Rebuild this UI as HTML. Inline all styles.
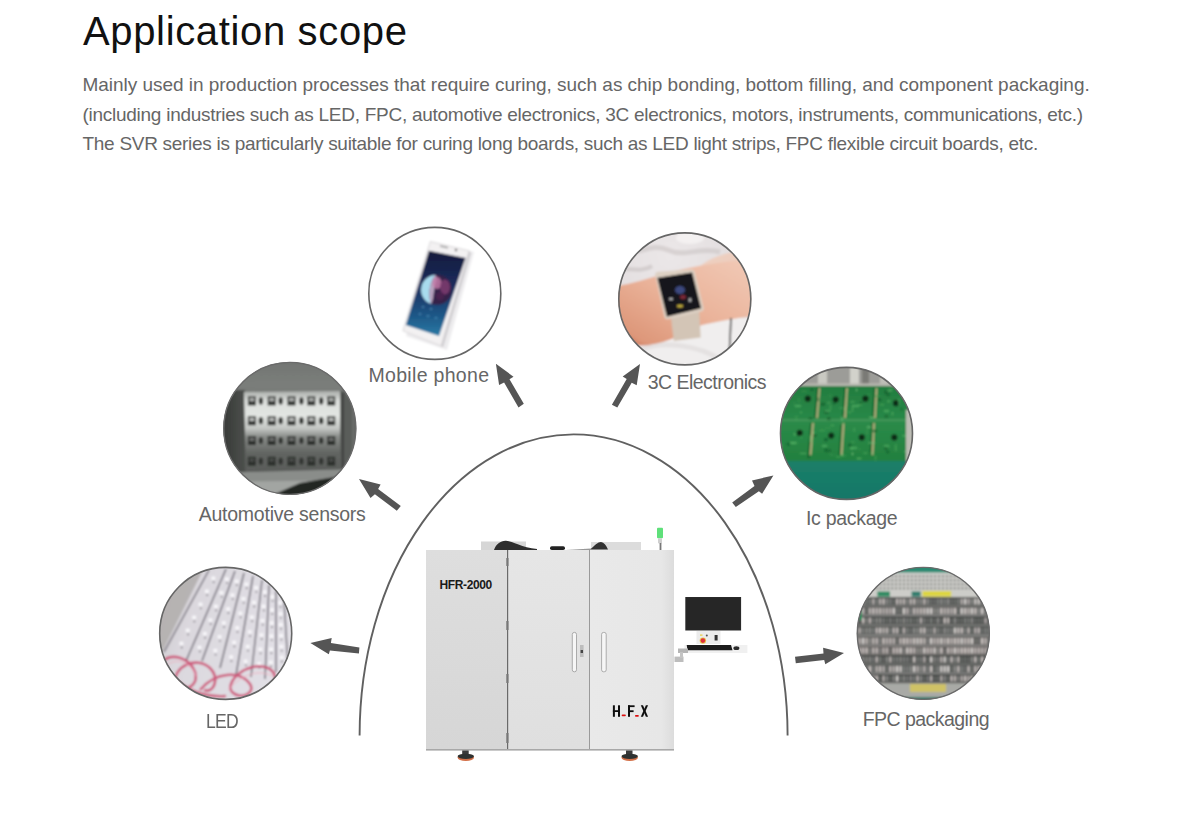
<!DOCTYPE html>
<html><head><meta charset="utf-8">
<style>
html,body{margin:0;padding:0;background:#fff;width:1200px;height:833px;overflow:hidden;}
body{position:relative;font-family:"Liberation Sans",sans-serif;}
.t{position:absolute;white-space:nowrap;line-height:1;}
#title{left:83px;top:11px;font-size:40px;color:#111;letter-spacing:0.65px;}
.p{left:82.5px;font-size:19px;color:#666;}
.lb{font-size:19.5px;color:#666;}
svg{position:absolute;left:0;top:0;}
</style></head>
<body>
<div class="t" id="title">Application scope</div>
<div class="t p" style="top:75px;letter-spacing:-0.03px">Mainly used in production processes that require curing, such as chip bonding, bottom filling, and component packaging.</div>
<div class="t p" style="top:104.6px;letter-spacing:-0.265px">(including industries such as LED, FPC, automotive electronics, 3C electronics, motors, instruments, communications, etc.)</div>
<div class="t p" style="top:134.2px;letter-spacing:-0.285px">The SVR series is particularly suitable for curing long boards, such as LED light strips, FPC flexible circuit boards, etc.</div>

<svg width="1200" height="833" viewBox="0 0 1200 833">
<defs>
 <filter id="soft" x="-5%" y="-5%" width="110%" height="110%"><feGaussianBlur stdDeviation="0.8"/></filter>
 <filter id="soft3" x="-5%" y="-5%" width="110%" height="110%"><feGaussianBlur stdDeviation="0.45"/></filter>
 <filter id="soft2" x="-5%" y="-5%" width="110%" height="110%"><feGaussianBlur stdDeviation="1"/></filter>
 <clipPath id="c1"><circle cx="434.8" cy="293.4" r="66.5"/></clipPath>
 <clipPath id="c2"><circle cx="684.8" cy="298.9" r="66.5"/></clipPath>
 <clipPath id="c3"><circle cx="289.8" cy="428.4" r="66.5"/></clipPath>
 <clipPath id="c4"><circle cx="846.5" cy="433.4" r="66.5"/></clipPath>
 <clipPath id="c5"><circle cx="225.7" cy="633.4" r="66.5"/></clipPath>
 <clipPath id="c6"><circle cx="923.3" cy="633.4" r="66.5"/></clipPath>
</defs>

<!-- arch -->
<path d="M359.6 735.6 A214 301.3 0 0 1 787.6 735.6" fill="none" stroke="#606060" stroke-width="1.9"/>

<!-- arrows -->
<g fill="#555">
 <polygon points="495.9,363.7 513.5,376.7 509.5,379.2 523.8,403.7 518.5,407.6 504.1,382.4 499.1,384.9"/>
 <polygon points="640,364 636.7,385.3 631.7,382.7 617.3,407.6 611.9,404.7 626.7,379.1 622.7,376.6"/>
 <polygon points="359,479 380.6,484.5 378.1,489.1 400.8,506.1 396.8,510.7 374.9,494.2 370.5,498.1"/>
 <polygon points="773.4,475.4 762.1,493.8 758.9,491.3 735.8,507.1 732.2,502.5 754.5,485.9 752,480.5"/>
 <polygon points="310.4,642.9 331.7,637.9 330.9,643.1 359.4,647.4 358.9,653.5 329.9,650.6 328.8,654.2"/>
 <polygon points="844,653.1 825.3,664.3 824.2,659.9 795.8,663.2 795,656.7 823.5,653.5 823.1,647.7"/>
</g>

<!-- circle 1: mobile phone -->
<g clip-path="url(#c1)"><g filter="url(#soft)">
 <rect x="360" y="220" width="150" height="150" fill="#fff"/>
 <polygon points="434,244 474,252 447,350 406,336" fill="#dedde0" opacity="0.55"/>
 <polygon points="430.3,241.5 469.2,250.8 441.1,346 402.9,330.8" fill="#f3f1f2" stroke="#d6d4d6" stroke-width="0.9"/>
 <polygon points="469.2,250.8 471,253 443,347.5 441.1,346" fill="#cfcdd0"/>
 <defs><linearGradient id="scr" x1="0" y1="0" x2="0" y2="1"><stop offset="0" stop-color="#161a3c"/><stop offset="0.4" stop-color="#1b2c5c"/><stop offset="0.75" stop-color="#1d5686"/><stop offset="1" stop-color="#2a7aa5"/></linearGradient></defs>
 <polygon points="428.9,250.8 465.6,258 439,335.9 405.8,325" fill="url(#scr)"/>
 <circle cx="436.8" cy="289.8" r="15" fill="#35204a"/>
 <path d="M435.3,274.9 A15,15 0 0 0 431,304 C428,296 429,282 435.3,274.9 Z" fill="#a8dcee"/>
 <path d="M435.3,274.9 C429,282 428,296 431,304 C434,300 433,290 436,283 C437,279 437,276 435.3,274.9 Z" fill="#d8c4dc" opacity="0.8"/>
 <ellipse cx="437" cy="283" rx="4.5" ry="6" fill="#c27aa6" opacity="0.85"/>
 <ellipse cx="445" cy="287" rx="5" ry="7.5" fill="#7a3a6e" opacity="0.9"/>
 <ellipse cx="440" cy="296" rx="4" ry="4" fill="#4a2450" opacity="0.9"/>
 <rect x="440" y="246" width="8" height="1.6" fill="#9a9a9a" transform="rotate(13 444 247)"/>
 <circle cx="456" cy="250" r="1.2" fill="#555"/>
 <g fill="#5aa0c8" opacity="0.7"><circle cx="420" cy="314" r="1"/><circle cx="428" cy="316" r="1"/><circle cx="436" cy="318" r="1"/><circle cx="423" cy="307" r="1"/><circle cx="431" cy="309" r="1"/></g>
</g></g>
<circle cx="434.8" cy="293.4" r="66" fill="none" stroke="#666" stroke-width="1.6"/>

<!-- circle 2: watch -->
<g clip-path="url(#c2)"><g filter="url(#soft)">
 <defs>
  <linearGradient id="skin" x1="1" y1="0" x2="0" y2="1"><stop offset="0" stop-color="#f2cbb8"/><stop offset="0.5" stop-color="#eab39a"/><stop offset="1" stop-color="#d98d6e"/></linearGradient>
  <radialGradient id="marb" cx="0.4" cy="0.2" r="0.8"><stop offset="0" stop-color="#ebe7e8"/><stop offset="1" stop-color="#dcd7d8"/></radialGradient>
 </defs>
 <rect x="610" y="225" width="150" height="150" fill="url(#marb)"/>
 <path d="M625,250 C640,256 650,242 668,250 C685,258 700,246 720,252" stroke="#cbc4c4" stroke-width="5" fill="none" opacity="0.6"/>
 <path d="M615,270 C628,266 640,274 652,266" stroke="#c6bfc0" stroke-width="4" fill="none" opacity="0.6"/>
 <ellipse cx="690" cy="238" rx="14" ry="6" fill="#f6f4f4" opacity="0.8"/>
 <rect x="610" y="318" width="150" height="60" fill="#f0eeee"/>
 <path d="M640,350 C660,340 700,345 720,360" stroke="#dcd8d8" stroke-width="5" fill="none" opacity="0.6"/>
 <path d="M700,266 C712,256 735,250 756,249 L756,262 Z" fill="#efcbb9" opacity="0.85"/>
 <path d="M612,287 C630,284 648,279 666,273 C695,266 725,261 756,259 L756,316 C735,318 718,322 702,325 C688,331 668,343 648,345 C634,346 620,340 612,335 Z" fill="url(#skin)"/>
 <path d="M612,318 C625,332 640,345 652,345 L612,348 Z" fill="#d28468" opacity="0.6"/>
 <path d="M670.5,314 L699,308.5 L700.7,337.6 L673.8,341 Z" fill="#d3c5b6"/>
 <path d="M655.3,275.4 Q654.5,272.5 658,271.8 L691,269.6 Q694,269.2 694.8,272 L703.5,307.5 Q704.5,310.5 701.5,311.4 L668,319.2 Q665,320 664.4,317 Z" fill="#ddd0c3"/>
 <path d="M658.3,278.5 L691.5,273.2 L700.2,307.8 L667.5,315.8 Z" fill="#16161c" stroke="#0c0c0c" stroke-width="1.6" stroke-linejoin="round"/>
 <ellipse cx="680" cy="290" rx="5" ry="4" fill="#4a5aa0" opacity="0.75"/>
 <ellipse cx="683" cy="297" rx="3" ry="2" fill="#a03040" opacity="0.75"/>
 <ellipse cx="680" cy="306" rx="3" ry="1.5" fill="#d8c040" opacity="0.9"/>
 <ellipse cx="671" cy="299" rx="2" ry="1.2" fill="#ddd" opacity="0.8"/>
 <ellipse cx="690" cy="300" rx="1.5" ry="2" fill="#ddd" opacity="0.8"/>
 <path d="M731,318 L729.5,350" stroke="#3a3a3a" stroke-width="1.6"/>
</g></g>
<circle cx="684.8" cy="298.9" r="66" fill="none" stroke="#666" stroke-width="1.6"/>

<!-- circle 3: automotive sensors -->
<g clip-path="url(#c3)"><g filter="url(#soft)">
 <defs>
  <linearGradient id="agr" x1="0" y1="0" x2="0" y2="1"><stop offset="0" stop-color="#707370"/><stop offset="0.2" stop-color="#7b7e7b"/><stop offset="0.5" stop-color="#626562"/><stop offset="1" stop-color="#4a4c4a"/></linearGradient>
  <linearGradient id="apn" x1="0" y1="0" x2="0" y2="1"><stop offset="0" stop-color="#a9aca9"/><stop offset="0.12" stop-color="#dcdfdc"/><stop offset="0.3" stop-color="#e2e5e2"/><stop offset="0.45" stop-color="#c4c7c4"/><stop offset="0.55" stop-color="#8a8d8a"/><stop offset="0.75" stop-color="#626562"/><stop offset="1" stop-color="#585a58"/></linearGradient>
  <linearGradient id="alb" x1="0" y1="0" x2="1" y2="0"><stop offset="0" stop-color="#303330"/><stop offset="1" stop-color="#4c4f4c"/></linearGradient>
 </defs>
 <rect x="215" y="355" width="150" height="150" fill="url(#agr)"/>
 <rect x="215" y="390" width="30" height="90" fill="url(#alb)"/>
 <polygon points="244,392 340,391 342,472 246,474" fill="url(#apn)"/>
 <rect x="340" y="391" width="17" height="84" fill="#5a5d5a"/>
 <rect x="342" y="393" width="1.4" height="80" fill="#2e2e2e"/>
 <rect x="352" y="395" width="3" height="70" fill="#6a6d6a"/>
 <rect x="247.9" y="396.4" width="8" height="9" fill="#2c2e2c"/><rect x="249.4" y="397.9" width="5" height="3.5" fill="#a8aaa8"/>
 <ellipse cx="260.9" cy="400.9" rx="2.2" ry="3.6" fill="#333533"/>
 <rect x="267.7" y="396.4" width="8" height="9" fill="#2c2e2c"/><rect x="269.2" y="397.9" width="5" height="3.5" fill="#a8aaa8"/>
 <ellipse cx="280.7" cy="400.9" rx="2.2" ry="3.6" fill="#333533"/>
 <rect x="287.5" y="396.4" width="8" height="9" fill="#2c2e2c"/><rect x="289.0" y="397.9" width="5" height="3.5" fill="#a8aaa8"/>
 <ellipse cx="301.4" cy="400.9" rx="2.2" ry="3.6" fill="#333533"/>
 <rect x="307.3" y="396.4" width="8" height="9" fill="#2c2e2c"/><rect x="308.8" y="397.9" width="5" height="3.5" fill="#a8aaa8"/>
 <ellipse cx="321.2" cy="400.9" rx="2.2" ry="3.6" fill="#333533"/>
 <rect x="327.2" y="396.4" width="8" height="9" fill="#2c2e2c"/><rect x="328.7" y="397.9" width="5" height="3.5" fill="#a8aaa8"/>
 <rect x="247.9" y="416.2" width="8" height="9" fill="#2c2e2c"/><rect x="249.4" y="417.7" width="5" height="3.5" fill="#b8bab8"/>
 <ellipse cx="260.9" cy="420.7" rx="2.2" ry="3.6" fill="#333533"/>
 <rect x="267.7" y="416.2" width="8" height="9" fill="#2c2e2c"/><rect x="269.2" y="417.7" width="5" height="3.5" fill="#b8bab8"/>
 <ellipse cx="280.7" cy="420.7" rx="2.2" ry="3.6" fill="#333533"/>
 <rect x="287.5" y="416.2" width="8" height="9" fill="#2c2e2c"/><rect x="289.0" y="417.7" width="5" height="3.5" fill="#b8bab8"/>
 <ellipse cx="301.4" cy="420.7" rx="2.2" ry="3.6" fill="#333533"/>
 <rect x="307.3" y="416.2" width="8" height="9" fill="#2c2e2c"/><rect x="308.8" y="417.7" width="5" height="3.5" fill="#b8bab8"/>
 <ellipse cx="321.2" cy="420.7" rx="2.2" ry="3.6" fill="#333533"/>
 <rect x="327.2" y="416.2" width="8" height="9" fill="#2c2e2c"/><rect x="328.7" y="417.7" width="5" height="3.5" fill="#b8bab8"/>
 <rect x="247.9" y="436.0" width="8" height="9" fill="#2c2e2c"/><rect x="249.4" y="437.5" width="5" height="3.5" fill="#6a6c6a"/>
 <ellipse cx="260.9" cy="440.5" rx="2.2" ry="3.6" fill="#333533"/>
 <rect x="267.7" y="436.0" width="8" height="9" fill="#2c2e2c"/><rect x="269.2" y="437.5" width="5" height="3.5" fill="#6a6c6a"/>
 <ellipse cx="280.7" cy="440.5" rx="2.2" ry="3.6" fill="#333533"/>
 <rect x="287.5" y="436.0" width="8" height="9" fill="#2c2e2c"/><rect x="289.0" y="437.5" width="5" height="3.5" fill="#6a6c6a"/>
 <ellipse cx="301.4" cy="440.5" rx="2.2" ry="3.6" fill="#333533"/>
 <rect x="307.3" y="436.0" width="8" height="9" fill="#2c2e2c"/><rect x="308.8" y="437.5" width="5" height="3.5" fill="#6a6c6a"/>
 <ellipse cx="321.2" cy="440.5" rx="2.2" ry="3.6" fill="#333533"/>
 <rect x="327.2" y="436.0" width="8" height="9" fill="#2c2e2c"/><rect x="328.7" y="437.5" width="5" height="3.5" fill="#6a6c6a"/>
 <rect x="247.9" y="456.7" width="8" height="9" fill="#2c2e2c"/><rect x="249.4" y="458.2" width="5" height="3.5" fill="#4a4c4a"/>
 <ellipse cx="260.9" cy="461.2" rx="2.2" ry="3.6" fill="#333533"/>
 <rect x="267.7" y="456.7" width="8" height="9" fill="#2c2e2c"/><rect x="269.2" y="458.2" width="5" height="3.5" fill="#4a4c4a"/>
 <ellipse cx="280.7" cy="461.2" rx="2.2" ry="3.6" fill="#333533"/>
 <rect x="287.5" y="456.7" width="8" height="9" fill="#2c2e2c"/><rect x="289.0" y="458.2" width="5" height="3.5" fill="#4a4c4a"/>
 <ellipse cx="301.4" cy="461.2" rx="2.2" ry="3.6" fill="#333533"/>
 <rect x="307.3" y="456.7" width="8" height="9" fill="#2c2e2c"/><rect x="308.8" y="458.2" width="5" height="3.5" fill="#4a4c4a"/>
 <ellipse cx="321.2" cy="461.2" rx="2.2" ry="3.6" fill="#333533"/>
 <rect x="327.2" y="456.7" width="8" height="9" fill="#2c2e2c"/><rect x="328.7" y="458.2" width="5" height="3.5" fill="#4a4c4a"/>
 <polygon points="215,473 356,469 365,470 365,482 215,484" fill="#8a8d8a"/>
 <polygon points="215,482 365,480 365,505 215,505" fill="#a2a5a2"/>
 <polygon points="262,505 268,497 300,483 340,476 365,476 365,505" fill="#242624"/>
</g></g>
<circle cx="289.8" cy="428.4" r="66" fill="none" stroke="#6a6a6a" stroke-width="1.4"/>

<!-- circle 4: ic package -->
<g clip-path="url(#c4)"><g filter="url(#soft)">
 <defs>
  <linearGradient id="pcb" x1="0" y1="0" x2="0" y2="1"><stop offset="0" stop-color="#237d40"/><stop offset="0.5" stop-color="#2a8a48"/><stop offset="1" stop-color="#23803f"/></linearGradient>
  <linearGradient id="teal" x1="0" y1="0" x2="0" y2="1"><stop offset="0" stop-color="#1b7f68"/><stop offset="1" stop-color="#157567"/></linearGradient>
 </defs>
 <rect x="770" y="360" width="150" height="30" fill="#9c9c98"/>
 <rect x="818" y="366" width="9" height="20" fill="#c9c9c2"/>
 <rect x="850" y="366" width="9" height="20" fill="#d2d2cb"/>
 <rect x="862" y="366" width="7" height="20" fill="#7a7a76"/>
 <rect x="880" y="366" width="8" height="20" fill="#bfbfb8"/>
 <rect x="770" y="383.5" width="150" height="3" fill="#b8b8b0"/>
 <rect x="770" y="386" width="150" height="76" fill="url(#pcb)"/>
 <rect x="770" y="419.5" width="150" height="1.5" fill="#4a9a5e"/>
 <g stroke="#145a28" stroke-width="1.2" transform="translate(-2.2,0)">
  <line x1="819.5" y1="388" x2="817" y2="418"/><line x1="847" y1="388" x2="845" y2="418"/><line x1="876.5" y1="388" x2="875" y2="418"/>
  <line x1="813" y1="423" x2="810.5" y2="455"/><line x1="843.5" y1="423" x2="841.5" y2="455"/><line x1="874" y1="423" x2="872.5" y2="455"/>
 </g>
 <g stroke="#c9b487" stroke-width="1.6">
  <line x1="819.5" y1="388" x2="817" y2="418"/><line x1="847" y1="388" x2="845" y2="418"/><line x1="876.5" y1="388" x2="875" y2="418"/>
  <line x1="813" y1="423" x2="810.5" y2="455"/><line x1="843.5" y1="423" x2="841.5" y2="455"/><line x1="874" y1="423" x2="872.5" y2="455"/>
 </g>
 <circle cx="807.8" cy="398.7" r="3.1" fill="#0e2a16"/>
 <circle cx="835.7" cy="399.6" r="3.1" fill="#0e2a16"/>
 <circle cx="865.4" cy="398.7" r="3.1" fill="#0e2a16"/>
 <circle cx="896" cy="403.2" r="3.1" fill="#0e2a16"/>
 <circle cx="799.7" cy="432.9" r="3.1" fill="#0e2a16"/>
 <circle cx="831.2" cy="435.6" r="3.1" fill="#0e2a16"/>
 <circle cx="861.8" cy="437.4" r="3.1" fill="#0e2a16"/>
 <circle cx="894.3" cy="437.4" r="3.1" fill="#0e2a16"/>
 <rect x="836.1" y="456.3" width="4.3" height="1.2" fill="#4fae5e" opacity="0.75"/>
 <rect x="844.1" y="406.9" width="0.8" height="4.2" fill="#62c070" opacity="0.75"/>
 <rect x="895.2" y="444.4" width="1.2" height="6.8" fill="#4fae5e" opacity="0.75"/>
 <rect x="887.3" y="389.9" width="5.0" height="1.0" fill="#7ccf86" opacity="0.75"/>
 <rect x="888.7" y="446.1" width="0.8" height="2.0" fill="#3e9a50" opacity="0.75"/>
 <rect x="829.9" y="404.5" width="1.0" height="5.5" fill="#4fae5e" opacity="0.75"/>
 <rect x="779.0" y="404.9" width="1.0" height="6.2" fill="#62c070" opacity="0.75"/>
 <rect x="889.4" y="388.0" width="4.3" height="1.2" fill="#3e9a50" opacity="0.75"/>
 <rect x="851.4" y="447.3" width="1.0" height="2.4" fill="#62c070" opacity="0.75"/>
 <rect x="877.3" y="391.5" width="2.1" height="1.0" fill="#3e9a50" opacity="0.75"/>
 <rect x="850.5" y="401.4" width="4.1" height="1.0" fill="#62c070" opacity="0.75"/>
 <rect x="908.7" y="454.1" width="7.0" height="0.8" fill="#4fae5e" opacity="0.75"/>
 <rect x="909.4" y="406.1" width="6.9" height="0.8" fill="#3e9a50" opacity="0.75"/>
 <rect x="879.3" y="397.9" width="2.4" height="0.8" fill="#4fae5e" opacity="0.75"/>
 <rect x="824.8" y="427.6" width="6.2" height="0.8" fill="#3e9a50" opacity="0.75"/>
 <rect x="795.8" y="415.3" width="0.8" height="5.6" fill="#4fae5e" opacity="0.75"/>
 <rect x="827.4" y="402.5" width="2.5" height="0.8" fill="#7ccf86" opacity="0.75"/>
 <rect x="870.1" y="452.7" width="3.5" height="0.8" fill="#62c070" opacity="0.75"/>
 <rect x="839.7" y="407.6" width="3.4" height="0.8" fill="#62c070" opacity="0.75"/>
 <rect x="830.5" y="424.7" width="3.8" height="1.2" fill="#4fae5e" opacity="0.75"/>
 <rect x="793.7" y="401.5" width="0.8" height="4.9" fill="#3e9a50" opacity="0.75"/>
 <rect x="869.6" y="416.9" width="4.4" height="1.2" fill="#7ccf86" opacity="0.75"/>
 <rect x="909.9" y="390.3" width="1.2" height="6.5" fill="#4fae5e" opacity="0.75"/>
 <rect x="898.5" y="398.6" width="1.0" height="6.4" fill="#62c070" opacity="0.75"/>
 <rect x="852.3" y="406.7" width="0.8" height="5.0" fill="#62c070" opacity="0.75"/>
 <rect x="909.1" y="449.2" width="6.7" height="1.2" fill="#3e9a50" opacity="0.75"/>
 <rect x="888.2" y="390.5" width="3.6" height="0.8" fill="#3e9a50" opacity="0.75"/>
 <rect x="904.2" y="451.1" width="3.3" height="0.8" fill="#7ccf86" opacity="0.75"/>
 <rect x="866.5" y="429.1" width="1.0" height="5.3" fill="#3e9a50" opacity="0.75"/>
 <rect x="819.1" y="430.1" width="6.0" height="0.8" fill="#4fae5e" opacity="0.75"/>
 <rect x="853.7" y="427.9" width="0.8" height="3.8" fill="#62c070" opacity="0.75"/>
 <rect x="812.4" y="439.2" width="1.0" height="6.6" fill="#3e9a50" opacity="0.75"/>
 <rect x="841.7" y="453.2" width="0.8" height="3.6" fill="#7ccf86" opacity="0.75"/>
 <rect x="780.6" y="443.5" width="1.2" height="5.2" fill="#62c070" opacity="0.75"/>
 <rect x="829.7" y="450.7" width="0.8" height="3.2" fill="#62c070" opacity="0.75"/>
 <rect x="790.6" y="442.3" width="6.8" height="1.2" fill="#4fae5e" opacity="0.75"/>
 <rect x="839.1" y="423.4" width="4.7" height="0.8" fill="#4fae5e" opacity="0.75"/>
 <rect x="880.1" y="404.2" width="4.0" height="1.2" fill="#4fae5e" opacity="0.75"/>
 <rect x="900.9" y="427.7" width="0.8" height="3.0" fill="#3e9a50" opacity="0.75"/>
 <rect x="863.1" y="452.5" width="4.3" height="1.2" fill="#4fae5e" opacity="0.75"/>
 <rect x="891.9" y="411.9" width="1.0" height="3.1" fill="#62c070" opacity="0.75"/>
 <rect x="847.5" y="411.7" width="3.7" height="0.8" fill="#62c070" opacity="0.75"/>
 <rect x="849.3" y="411.0" width="0.8" height="3.1" fill="#3e9a50" opacity="0.75"/>
 <rect x="798.3" y="398.1" width="1.2" height="4.4" fill="#3e9a50" opacity="0.75"/>
 <rect x="841.5" y="416.5" width="1.2" height="4.2" fill="#7ccf86" opacity="0.75"/>
 <rect x="850.8" y="441.5" width="3.6" height="1.0" fill="#4fae5e" opacity="0.75"/>
 <rect x="794.1" y="432.8" width="1.2" height="3.0" fill="#62c070" opacity="0.75"/>
 <rect x="856.7" y="457.9" width="4.7" height="1.2" fill="#62c070" opacity="0.75"/>
 <rect x="868.3" y="442.4" width="6.6" height="1.0" fill="#7ccf86" opacity="0.75"/>
 <rect x="841.6" y="455.4" width="4.6" height="0.8" fill="#4fae5e" opacity="0.75"/>
 <rect x="779.0" y="395.8" width="2.2" height="0.8" fill="#4fae5e" opacity="0.75"/>
 <rect x="813.4" y="431.8" width="1.2" height="2.5" fill="#62c070" opacity="0.75"/>
 <rect x="859.2" y="448.2" width="1.2" height="2.1" fill="#3e9a50" opacity="0.75"/>
 <rect x="858.1" y="404.1" width="4.6" height="1.2" fill="#4fae5e" opacity="0.75"/>
 <rect x="875.0" y="455.5" width="0.8" height="5.0" fill="#4fae5e" opacity="0.75"/>
 <rect x="801.3" y="390.9" width="5.6" height="1.0" fill="#3e9a50" opacity="0.75"/>
 <rect x="887.3" y="400.6" width="3.0" height="1.2" fill="#62c070" opacity="0.75"/>
 <rect x="851.9" y="452.6" width="1.2" height="2.6" fill="#7ccf86" opacity="0.75"/>
 <rect x="867.6" y="393.7" width="2.1" height="1.2" fill="#3e9a50" opacity="0.75"/>
 <rect x="799.9" y="453.2" width="6.6" height="0.8" fill="#62c070" opacity="0.75"/>
 <rect x="866.9" y="426.5" width="4.3" height="1.2" fill="#7ccf86" opacity="0.75"/>
 <rect x="856.1" y="388.4" width="1.0" height="2.9" fill="#7ccf86" opacity="0.75"/>
 <rect x="829.7" y="393.9" width="0.8" height="3.6" fill="#3e9a50" opacity="0.75"/>
 <rect x="800.8" y="435.3" width="0.8" height="3.4" fill="#4fae5e" opacity="0.75"/>
 <rect x="829.8" y="454.7" width="5.8" height="0.8" fill="#3e9a50" opacity="0.75"/>
 <rect x="800.0" y="411.9" width="2.1" height="1.0" fill="#62c070" opacity="0.75"/>
 <rect x="902.5" y="435.2" width="4.8" height="1.2" fill="#62c070" opacity="0.75"/>
 <rect x="910.0" y="448.2" width="0.8" height="6.9" fill="#62c070" opacity="0.75"/>
 <rect x="874.7" y="395.7" width="5.8" height="1.2" fill="#3e9a50" opacity="0.75"/>
 <rect x="809.9" y="435.3" width="1.2" height="6.8" fill="#62c070" opacity="0.75"/>
 <rect x="884.3" y="390.3" width="3.2" height="3.9" fill="#17602e" opacity="0.8"/>
 <rect x="827.1" y="417.1" width="3.3" height="3.0" fill="#17602e" opacity="0.8"/>
 <rect x="813.4" y="434.2" width="3.4" height="2.5" fill="#17602e" opacity="0.8"/>
 <rect x="900.5" y="407.9" width="2.0" height="2.5" fill="#17602e" opacity="0.8"/>
 <rect x="780.8" y="450.2" width="2.2" height="2.6" fill="#17602e" opacity="0.8"/>
 <rect x="828.7" y="449.0" width="2.2" height="3.8" fill="#17602e" opacity="0.8"/>
 <rect x="833.0" y="402.3" width="2.1" height="2.2" fill="#17602e" opacity="0.8"/>
 <rect x="884.4" y="415.3" width="3.8" height="2.2" fill="#17602e" opacity="0.8"/>
 <rect x="859.3" y="401.7" width="3.1" height="2.3" fill="#17602e" opacity="0.8"/>
 <rect x="824.0" y="438.0" width="3.9" height="3.4" fill="#17602e" opacity="0.8"/>
 <rect x="824.1" y="410.3" width="4.9" height="3.5" fill="#17602e" opacity="0.8"/>
 <rect x="807.2" y="455.1" width="2.8" height="3.2" fill="#17602e" opacity="0.8"/>
 <rect x="872.9" y="429.8" width="4.3" height="2.4" fill="#17602e" opacity="0.8"/>
 <rect x="808.6" y="417.4" width="3.9" height="2.0" fill="#17602e" opacity="0.8"/>
 <rect x="810.0" y="388.8" width="3.6" height="2.1" fill="#17602e" opacity="0.8"/>
 <rect x="786.7" y="442.8" width="3.5" height="2.7" fill="#17602e" opacity="0.8"/>
 <rect x="820.7" y="402.8" width="4.4" height="2.9" fill="#17602e" opacity="0.8"/>
 <rect x="886.0" y="450.7" width="3.3" height="2.5" fill="#17602e" opacity="0.8"/>
 <rect x="884.3" y="446.5" width="2.9" height="3.5" fill="#17602e" opacity="0.8"/>
 <rect x="886.5" y="393.5" width="3.4" height="2.6" fill="#17602e" opacity="0.8"/>
 <rect x="848.4" y="443.4" width="2.9" height="3.6" fill="#17602e" opacity="0.8"/>
 <rect x="785.3" y="394.4" width="4.1" height="3.0" fill="#17602e" opacity="0.8"/>
 <rect x="878.2" y="397.8" width="3.1" height="3.5" fill="#17602e" opacity="0.8"/>
 <rect x="824.5" y="448.5" width="3.3" height="3.6" fill="#17602e" opacity="0.8"/>
 <rect x="816.1" y="397.5" width="2.3" height="3.7" fill="#17602e" opacity="0.8"/>
 <g fill="#5fbf6f" opacity="0.55">
  <rect x="795" y="405" width="6" height="2"/><rect x="825" y="410" width="5" height="2"/><rect x="852" y="405" width="7" height="2"/><rect x="884" y="410" width="5" height="2"/>
  <rect x="790" y="442" width="6" height="2"/><rect x="822" y="445" width="5" height="2"/><rect x="850" y="447" width="7" height="2"/><rect x="884" y="445" width="5" height="2"/>
 </g>
 <rect x="906" y="410" width="7" height="51" fill="#bdbdb5"/>
 <rect x="770" y="461" width="150" height="50" fill="url(#teal)"/>
</g>
</g>
<circle cx="846.5" cy="433.4" r="66" fill="none" stroke="#666" stroke-width="1.6"/>

<!-- circle 5: LED -->
<g clip-path="url(#c5)"><g filter="url(#soft)">
 <defs><linearGradient id="ledg" x1="0" y1="0" x2="1" y2="0.3"><stop offset="0" stop-color="#c4c0c2"/><stop offset="0.35" stop-color="#dbd8de"/><stop offset="1" stop-color="#e2e0e6"/></linearGradient></defs>
 <rect x="150" y="560" width="150" height="150" fill="url(#ledg)"/>
 <polygon points="150,560 208,560 162,652 150,660" fill="#b3afae" opacity="0.9"/>
 <g stroke="#716d78" stroke-width="1.5">
 <line x1="209" y1="570" x2="164" y2="652"/>
 <line x1="226" y1="569" x2="186" y2="661"/>
 <line x1="235" y1="571" x2="202" y2="661"/>
 <line x1="244" y1="573" x2="220" y2="668"/>
 <line x1="253" y1="576" x2="236" y2="675"/>
 <line x1="262" y1="580" x2="251" y2="677"/>
 <line x1="269" y1="585" x2="265" y2="679"/>
 <line x1="276" y1="591" x2="276" y2="672"/>
 <line x1="284" y1="600" x2="288" y2="665"/>
 </g>
 <rect x="211.4" y="576.5" width="3.8" height="3.4" fill="#f8f7fa"/><circle cx="213.6" cy="582.2" r="0.9" fill="#77727a"/>
 <rect x="205.0" y="589.6" width="3.8" height="3.4" fill="#f8f7fa"/><circle cx="207.2" cy="595.2" r="0.9" fill="#77727a"/>
 <rect x="198.6" y="602.6" width="3.8" height="3.4" fill="#f8f7fa"/><circle cx="200.8" cy="608.3" r="0.9" fill="#77727a"/>
 <rect x="192.2" y="615.7" width="3.8" height="3.4" fill="#f8f7fa"/><circle cx="194.4" cy="621.4" r="0.9" fill="#77727a"/>
 <rect x="185.8" y="628.7" width="3.8" height="3.4" fill="#f8f7fa"/><circle cx="188.1" cy="634.4" r="0.9" fill="#77727a"/>
 <rect x="179.5" y="641.8" width="3.8" height="3.4" fill="#f8f7fa"/><circle cx="181.7" cy="647.5" r="0.9" fill="#77727a"/>
 <rect x="224.9" y="577.4" width="3.8" height="3.4" fill="#f8f7fa"/><circle cx="227.2" cy="583.1" r="0.9" fill="#77727a"/>
 <rect x="219.5" y="591.1" width="3.8" height="3.4" fill="#f8f7fa"/><circle cx="221.7" cy="596.8" r="0.9" fill="#77727a"/>
 <rect x="214.0" y="604.7" width="3.8" height="3.4" fill="#f8f7fa"/><circle cx="216.2" cy="610.4" r="0.9" fill="#77727a"/>
 <rect x="208.5" y="618.4" width="3.8" height="3.4" fill="#f8f7fa"/><circle cx="210.7" cy="624.0" r="0.9" fill="#77727a"/>
 <rect x="203.0" y="632.0" width="3.8" height="3.4" fill="#f8f7fa"/><circle cx="205.2" cy="637.7" r="0.9" fill="#77727a"/>
 <rect x="197.6" y="645.7" width="3.8" height="3.4" fill="#f8f7fa"/><circle cx="199.8" cy="651.4" r="0.9" fill="#77727a"/>
 <rect x="234.7" y="579.6" width="3.8" height="3.4" fill="#f8f7fa"/><circle cx="236.9" cy="585.2" r="0.9" fill="#77727a"/>
 <rect x="230.5" y="593.4" width="3.8" height="3.4" fill="#f8f7fa"/><circle cx="232.7" cy="599.1" r="0.9" fill="#77727a"/>
 <rect x="226.2" y="607.3" width="3.8" height="3.4" fill="#f8f7fa"/><circle cx="228.4" cy="613.0" r="0.9" fill="#77727a"/>
 <rect x="221.9" y="621.2" width="3.8" height="3.4" fill="#f8f7fa"/><circle cx="224.1" cy="626.9" r="0.9" fill="#77727a"/>
 <rect x="217.7" y="635.1" width="3.8" height="3.4" fill="#f8f7fa"/><circle cx="219.9" cy="640.8" r="0.9" fill="#77727a"/>
 <rect x="213.4" y="648.9" width="3.8" height="3.4" fill="#f8f7fa"/><circle cx="215.6" cy="654.6" r="0.9" fill="#77727a"/>
 <rect x="244.5" y="582.5" width="3.8" height="3.4" fill="#f8f7fa"/><circle cx="246.8" cy="588.2" r="0.9" fill="#77727a"/>
 <rect x="241.5" y="597.1" width="3.8" height="3.4" fill="#f8f7fa"/><circle cx="243.7" cy="602.8" r="0.9" fill="#77727a"/>
 <rect x="238.4" y="611.6" width="3.8" height="3.4" fill="#f8f7fa"/><circle cx="240.6" cy="617.3" r="0.9" fill="#77727a"/>
 <rect x="235.3" y="626.2" width="3.8" height="3.4" fill="#f8f7fa"/><circle cx="237.5" cy="631.9" r="0.9" fill="#77727a"/>
 <rect x="232.2" y="640.7" width="3.8" height="3.4" fill="#f8f7fa"/><circle cx="234.4" cy="646.4" r="0.9" fill="#77727a"/>
 <rect x="229.2" y="655.3" width="3.8" height="3.4" fill="#f8f7fa"/><circle cx="231.4" cy="661.0" r="0.9" fill="#77727a"/>
 <rect x="254.2" y="586.1" width="3.8" height="3.4" fill="#f8f7fa"/><circle cx="256.4" cy="591.8" r="0.9" fill="#77727a"/>
 <rect x="252.1" y="600.8" width="3.8" height="3.4" fill="#f8f7fa"/><circle cx="254.3" cy="606.5" r="0.9" fill="#77727a"/>
 <rect x="250.0" y="615.5" width="3.8" height="3.4" fill="#f8f7fa"/><circle cx="252.2" cy="621.2" r="0.9" fill="#77727a"/>
 <rect x="247.9" y="630.2" width="3.8" height="3.4" fill="#f8f7fa"/><circle cx="250.1" cy="635.9" r="0.9" fill="#77727a"/>
 <rect x="245.8" y="644.9" width="3.8" height="3.4" fill="#f8f7fa"/><circle cx="248.0" cy="650.6" r="0.9" fill="#77727a"/>
 <rect x="243.7" y="659.6" width="3.8" height="3.4" fill="#f8f7fa"/><circle cx="245.9" cy="665.3" r="0.9" fill="#77727a"/>
 <rect x="262.8" y="590.4" width="3.8" height="3.4" fill="#f8f7fa"/><circle cx="265.1" cy="596.0" r="0.9" fill="#77727a"/>
 <rect x="261.7" y="604.7" width="3.8" height="3.4" fill="#f8f7fa"/><circle cx="263.9" cy="610.4" r="0.9" fill="#77727a"/>
 <rect x="260.6" y="619.0" width="3.8" height="3.4" fill="#f8f7fa"/><circle cx="262.8" cy="624.7" r="0.9" fill="#77727a"/>
 <rect x="259.5" y="633.3" width="3.8" height="3.4" fill="#f8f7fa"/><circle cx="261.7" cy="639.0" r="0.9" fill="#77727a"/>
 <rect x="258.4" y="647.6" width="3.8" height="3.4" fill="#f8f7fa"/><circle cx="260.6" cy="653.3" r="0.9" fill="#77727a"/>
 <rect x="257.2" y="662.0" width="3.8" height="3.4" fill="#f8f7fa"/><circle cx="259.4" cy="667.7" r="0.9" fill="#77727a"/>
 <rect x="270.4" y="595.1" width="3.8" height="3.4" fill="#f8f7fa"/><circle cx="272.6" cy="600.8" r="0.9" fill="#77727a"/>
 <rect x="270.1" y="608.2" width="3.8" height="3.4" fill="#f8f7fa"/><circle cx="272.3" cy="613.9" r="0.9" fill="#77727a"/>
 <rect x="269.8" y="621.3" width="3.8" height="3.4" fill="#f8f7fa"/><circle cx="272.0" cy="627.0" r="0.9" fill="#77727a"/>
 <rect x="269.5" y="634.4" width="3.8" height="3.4" fill="#f8f7fa"/><circle cx="271.7" cy="640.1" r="0.9" fill="#77727a"/>
 <rect x="269.2" y="647.6" width="3.8" height="3.4" fill="#f8f7fa"/><circle cx="271.4" cy="653.2" r="0.9" fill="#77727a"/>
 <rect x="268.9" y="660.7" width="3.8" height="3.4" fill="#f8f7fa"/><circle cx="271.1" cy="666.4" r="0.9" fill="#77727a"/>
 <rect x="278.3" y="601.1" width="3.8" height="3.4" fill="#f8f7fa"/><circle cx="280.5" cy="606.8" r="0.9" fill="#77727a"/>
 <rect x="278.6" y="612.1" width="3.8" height="3.4" fill="#f8f7fa"/><circle cx="280.8" cy="617.8" r="0.9" fill="#77727a"/>
 <rect x="278.9" y="623.0" width="3.8" height="3.4" fill="#f8f7fa"/><circle cx="281.1" cy="628.7" r="0.9" fill="#77727a"/>
 <rect x="279.2" y="634.0" width="3.8" height="3.4" fill="#f8f7fa"/><circle cx="281.4" cy="639.6" r="0.9" fill="#77727a"/>
 <rect x="279.5" y="644.9" width="3.8" height="3.4" fill="#f8f7fa"/><circle cx="281.7" cy="650.6" r="0.9" fill="#77727a"/>
 <rect x="279.8" y="655.8" width="3.8" height="3.4" fill="#f8f7fa"/><circle cx="282.0" cy="661.5" r="0.9" fill="#77727a"/>
 <g fill="none" stroke="#cc4d72" stroke-width="2.6" opacity="0.9">
  <path d="M162,662 C172,652 190,658 195,672 C200,688 180,694 176,682 C172,668 196,655 210,668 C220,678 214,694 204,690"/>
  <path d="M200,690 C215,672 240,670 250,684 C256,694 240,700 232,692 C224,682 248,660 268,668 C280,674 275,690 266,692"/>
  <path d="M172,676 C182,686 200,698 226,696"/>
 </g>
 <g fill="none" stroke="#eeb0c0" stroke-width="1" opacity="0.9">
  <path d="M165,666 C178,656 192,664 196,676"/><path d="M228,690 C240,676 258,668 272,676"/>
 </g>
</g>
</g>
<circle cx="225.7" cy="633.4" r="66" fill="none" stroke="#666" stroke-width="1.6"/>

<!-- circle 6: FPC -->
<g clip-path="url(#c6)"><g filter="url(#soft)">
 <rect x="845" y="560" width="150" height="150" fill="#8d8e8a"/>
 <rect x="845" y="560" width="150" height="13" fill="#2a8a72"/>
 <rect x="845" y="572.5" width="150" height="25" fill="#cdcdc9"/>
 <rect x="868.0" y="575.5" width="1.7" height="1.7" fill="#5e605e"/>
 <rect x="871.9" y="575.5" width="1.7" height="1.7" fill="#5e605e"/>
 <rect x="875.8" y="575.5" width="1.7" height="1.7" fill="#5e605e"/>
 <rect x="879.7" y="575.5" width="1.7" height="1.7" fill="#5e605e"/>
 <rect x="883.6" y="575.5" width="1.7" height="1.7" fill="#5e605e"/>
 <rect x="887.5" y="575.5" width="1.7" height="1.7" fill="#5e605e"/>
 <rect x="891.4" y="575.5" width="1.7" height="1.7" fill="#5e605e"/>
 <rect x="895.3" y="575.5" width="1.7" height="1.7" fill="#5e605e"/>
 <rect x="899.2" y="575.5" width="1.7" height="1.7" fill="#5e605e"/>
 <rect x="903.1" y="575.5" width="1.7" height="1.7" fill="#5e605e"/>
 <rect x="907.0" y="575.5" width="1.7" height="1.7" fill="#5e605e"/>
 <rect x="910.9" y="575.5" width="1.7" height="1.7" fill="#5e605e"/>
 <rect x="914.8" y="575.5" width="1.7" height="1.7" fill="#5e605e"/>
 <rect x="918.7" y="575.5" width="1.7" height="1.7" fill="#5e605e"/>
 <rect x="922.6" y="575.5" width="1.7" height="1.7" fill="#5e605e"/>
 <rect x="926.5" y="575.5" width="1.7" height="1.7" fill="#5e605e"/>
 <rect x="930.4" y="575.5" width="1.7" height="1.7" fill="#5e605e"/>
 <rect x="934.3" y="575.5" width="1.7" height="1.7" fill="#5e605e"/>
 <rect x="938.2" y="575.5" width="1.7" height="1.7" fill="#5e605e"/>
 <rect x="942.1" y="575.5" width="1.7" height="1.7" fill="#5e605e"/>
 <rect x="946.0" y="575.5" width="1.7" height="1.7" fill="#5e605e"/>
 <rect x="949.9" y="575.5" width="1.7" height="1.7" fill="#5e605e"/>
 <rect x="953.8" y="575.5" width="1.7" height="1.7" fill="#5e605e"/>
 <rect x="957.7" y="575.5" width="1.7" height="1.7" fill="#5e605e"/>
 <rect x="961.6" y="575.5" width="1.7" height="1.7" fill="#5e605e"/>
 <rect x="965.5" y="575.5" width="1.7" height="1.7" fill="#5e605e"/>
 <rect x="969.4" y="575.5" width="1.7" height="1.7" fill="#5e605e"/>
 <rect x="973.3" y="575.5" width="1.7" height="1.7" fill="#5e605e"/>
 <rect x="977.2" y="575.5" width="1.7" height="1.7" fill="#5e605e"/>
 <rect x="981.1" y="575.5" width="1.7" height="1.7" fill="#5e605e"/>
 <rect x="985.0" y="575.5" width="1.7" height="1.7" fill="#5e605e"/>
 <rect x="868.0" y="579.5" width="1.7" height="1.7" fill="#5e605e"/>
 <rect x="871.9" y="579.5" width="1.7" height="1.7" fill="#5e605e"/>
 <rect x="875.8" y="579.5" width="1.7" height="1.7" fill="#5e605e"/>
 <rect x="879.7" y="579.5" width="1.7" height="1.7" fill="#5e605e"/>
 <rect x="883.6" y="579.5" width="1.7" height="1.7" fill="#5e605e"/>
 <rect x="887.5" y="579.5" width="1.7" height="1.7" fill="#5e605e"/>
 <rect x="891.4" y="579.5" width="1.7" height="1.7" fill="#5e605e"/>
 <rect x="895.3" y="579.5" width="1.7" height="1.7" fill="#5e605e"/>
 <rect x="899.2" y="579.5" width="1.7" height="1.7" fill="#5e605e"/>
 <rect x="903.1" y="579.5" width="1.7" height="1.7" fill="#5e605e"/>
 <rect x="907.0" y="579.5" width="1.7" height="1.7" fill="#5e605e"/>
 <rect x="910.9" y="579.5" width="1.7" height="1.7" fill="#5e605e"/>
 <rect x="914.8" y="579.5" width="1.7" height="1.7" fill="#5e605e"/>
 <rect x="918.7" y="579.5" width="1.7" height="1.7" fill="#5e605e"/>
 <rect x="922.6" y="579.5" width="1.7" height="1.7" fill="#5e605e"/>
 <rect x="926.5" y="579.5" width="1.7" height="1.7" fill="#5e605e"/>
 <rect x="930.4" y="579.5" width="1.7" height="1.7" fill="#5e605e"/>
 <rect x="934.3" y="579.5" width="1.7" height="1.7" fill="#5e605e"/>
 <rect x="938.2" y="579.5" width="1.7" height="1.7" fill="#5e605e"/>
 <rect x="942.1" y="579.5" width="1.7" height="1.7" fill="#5e605e"/>
 <rect x="946.0" y="579.5" width="1.7" height="1.7" fill="#5e605e"/>
 <rect x="949.9" y="579.5" width="1.7" height="1.7" fill="#5e605e"/>
 <rect x="953.8" y="579.5" width="1.7" height="1.7" fill="#5e605e"/>
 <rect x="957.7" y="579.5" width="1.7" height="1.7" fill="#5e605e"/>
 <rect x="961.6" y="579.5" width="1.7" height="1.7" fill="#5e605e"/>
 <rect x="965.5" y="579.5" width="1.7" height="1.7" fill="#5e605e"/>
 <rect x="969.4" y="579.5" width="1.7" height="1.7" fill="#5e605e"/>
 <rect x="973.3" y="579.5" width="1.7" height="1.7" fill="#5e605e"/>
 <rect x="977.2" y="579.5" width="1.7" height="1.7" fill="#5e605e"/>
 <rect x="981.1" y="579.5" width="1.7" height="1.7" fill="#5e605e"/>
 <rect x="985.0" y="579.5" width="1.7" height="1.7" fill="#5e605e"/>
 <rect x="868.0" y="583.5" width="1.7" height="1.7" fill="#5e605e"/>
 <rect x="871.9" y="583.5" width="1.7" height="1.7" fill="#5e605e"/>
 <rect x="875.8" y="583.5" width="1.7" height="1.7" fill="#5e605e"/>
 <rect x="879.7" y="583.5" width="1.7" height="1.7" fill="#5e605e"/>
 <rect x="883.6" y="583.5" width="1.7" height="1.7" fill="#5e605e"/>
 <rect x="887.5" y="583.5" width="1.7" height="1.7" fill="#5e605e"/>
 <rect x="891.4" y="583.5" width="1.7" height="1.7" fill="#5e605e"/>
 <rect x="895.3" y="583.5" width="1.7" height="1.7" fill="#5e605e"/>
 <rect x="899.2" y="583.5" width="1.7" height="1.7" fill="#5e605e"/>
 <rect x="903.1" y="583.5" width="1.7" height="1.7" fill="#5e605e"/>
 <rect x="907.0" y="583.5" width="1.7" height="1.7" fill="#5e605e"/>
 <rect x="910.9" y="583.5" width="1.7" height="1.7" fill="#5e605e"/>
 <rect x="914.8" y="583.5" width="1.7" height="1.7" fill="#5e605e"/>
 <rect x="918.7" y="583.5" width="1.7" height="1.7" fill="#5e605e"/>
 <rect x="922.6" y="583.5" width="1.7" height="1.7" fill="#5e605e"/>
 <rect x="926.5" y="583.5" width="1.7" height="1.7" fill="#5e605e"/>
 <rect x="930.4" y="583.5" width="1.7" height="1.7" fill="#5e605e"/>
 <rect x="934.3" y="583.5" width="1.7" height="1.7" fill="#5e605e"/>
 <rect x="938.2" y="583.5" width="1.7" height="1.7" fill="#5e605e"/>
 <rect x="942.1" y="583.5" width="1.7" height="1.7" fill="#5e605e"/>
 <rect x="946.0" y="583.5" width="1.7" height="1.7" fill="#5e605e"/>
 <rect x="949.9" y="583.5" width="1.7" height="1.7" fill="#5e605e"/>
 <rect x="953.8" y="583.5" width="1.7" height="1.7" fill="#5e605e"/>
 <rect x="957.7" y="583.5" width="1.7" height="1.7" fill="#5e605e"/>
 <rect x="961.6" y="583.5" width="1.7" height="1.7" fill="#5e605e"/>
 <rect x="965.5" y="583.5" width="1.7" height="1.7" fill="#5e605e"/>
 <rect x="969.4" y="583.5" width="1.7" height="1.7" fill="#5e605e"/>
 <rect x="973.3" y="583.5" width="1.7" height="1.7" fill="#5e605e"/>
 <rect x="977.2" y="583.5" width="1.7" height="1.7" fill="#5e605e"/>
 <rect x="981.1" y="583.5" width="1.7" height="1.7" fill="#5e605e"/>
 <rect x="985.0" y="583.5" width="1.7" height="1.7" fill="#5e605e"/>
 <rect x="868.0" y="587.5" width="1.7" height="1.7" fill="#5e605e"/>
 <rect x="871.9" y="587.5" width="1.7" height="1.7" fill="#5e605e"/>
 <rect x="875.8" y="587.5" width="1.7" height="1.7" fill="#5e605e"/>
 <rect x="879.7" y="587.5" width="1.7" height="1.7" fill="#5e605e"/>
 <rect x="883.6" y="587.5" width="1.7" height="1.7" fill="#5e605e"/>
 <rect x="887.5" y="587.5" width="1.7" height="1.7" fill="#5e605e"/>
 <rect x="891.4" y="587.5" width="1.7" height="1.7" fill="#5e605e"/>
 <rect x="895.3" y="587.5" width="1.7" height="1.7" fill="#5e605e"/>
 <rect x="899.2" y="587.5" width="1.7" height="1.7" fill="#5e605e"/>
 <rect x="903.1" y="587.5" width="1.7" height="1.7" fill="#5e605e"/>
 <rect x="907.0" y="587.5" width="1.7" height="1.7" fill="#5e605e"/>
 <rect x="910.9" y="587.5" width="1.7" height="1.7" fill="#5e605e"/>
 <rect x="914.8" y="587.5" width="1.7" height="1.7" fill="#5e605e"/>
 <rect x="918.7" y="587.5" width="1.7" height="1.7" fill="#5e605e"/>
 <rect x="922.6" y="587.5" width="1.7" height="1.7" fill="#5e605e"/>
 <rect x="926.5" y="587.5" width="1.7" height="1.7" fill="#5e605e"/>
 <rect x="930.4" y="587.5" width="1.7" height="1.7" fill="#5e605e"/>
 <rect x="934.3" y="587.5" width="1.7" height="1.7" fill="#5e605e"/>
 <rect x="938.2" y="587.5" width="1.7" height="1.7" fill="#5e605e"/>
 <rect x="942.1" y="587.5" width="1.7" height="1.7" fill="#5e605e"/>
 <rect x="946.0" y="587.5" width="1.7" height="1.7" fill="#5e605e"/>
 <rect x="949.9" y="587.5" width="1.7" height="1.7" fill="#5e605e"/>
 <rect x="953.8" y="587.5" width="1.7" height="1.7" fill="#5e605e"/>
 <rect x="957.7" y="587.5" width="1.7" height="1.7" fill="#5e605e"/>
 <rect x="961.6" y="587.5" width="1.7" height="1.7" fill="#5e605e"/>
 <rect x="965.5" y="587.5" width="1.7" height="1.7" fill="#5e605e"/>
 <rect x="969.4" y="587.5" width="1.7" height="1.7" fill="#5e605e"/>
 <rect x="973.3" y="587.5" width="1.7" height="1.7" fill="#5e605e"/>
 <rect x="977.2" y="587.5" width="1.7" height="1.7" fill="#5e605e"/>
 <rect x="981.1" y="587.5" width="1.7" height="1.7" fill="#5e605e"/>
 <rect x="985.0" y="587.5" width="1.7" height="1.7" fill="#5e605e"/>
 <rect x="877.4" y="591.5" width="12.6" height="5" fill="#2a8a60"/>
 <rect x="911.6" y="591.5" width="9" height="5" fill="#2a7a6a"/>
 <rect x="922.4" y="591" width="28.8" height="5.5" fill="#dcd540"/>
 <rect x="845" y="597" width="150" height="9.5" fill="#4a4c4a"/>
 <rect x="845" y="605.5" width="150" height="1" fill="#9a9a98"/>
 <rect x="855.5" y="598.5" width="1.7" height="6" fill="#d8d0ce"/>
 <rect x="858.9" y="598.5" width="1.7" height="6" fill="#8a8c8a"/>
 <rect x="862.3" y="598.5" width="1.7" height="6" fill="#e6dedb"/>
 <rect x="865.7" y="598.5" width="1.7" height="6" fill="#8a8c8a"/>
 <rect x="869.1" y="598.5" width="1.7" height="6" fill="#8a8c8a"/>
 <rect x="872.5" y="598.5" width="1.7" height="6" fill="#cfc8c6"/>
 <rect x="875.9" y="598.5" width="1.7" height="6" fill="#8a8c8a"/>
 <rect x="879.3" y="598.5" width="1.7" height="6" fill="#cfc8c6"/>
 <rect x="882.7" y="598.5" width="1.7" height="6" fill="#e6dedb"/>
 <rect x="886.1" y="598.5" width="1.7" height="6" fill="#9c9c9a"/>
 <rect x="889.5" y="598.5" width="1.7" height="6" fill="#8a8c8a"/>
 <rect x="892.9" y="598.5" width="1.7" height="6" fill="#767876"/>
 <rect x="896.3" y="598.5" width="1.7" height="6" fill="#d8d0ce"/>
 <rect x="899.7" y="598.5" width="1.7" height="6" fill="#d8d0ce"/>
 <rect x="903.1" y="598.5" width="1.7" height="6" fill="#d8d0ce"/>
 <rect x="906.5" y="598.5" width="1.7" height="6" fill="#9c9c9a"/>
 <rect x="909.9" y="598.5" width="1.7" height="6" fill="#d8d0ce"/>
 <rect x="913.3" y="598.5" width="1.7" height="6" fill="#d8d0ce"/>
 <rect x="916.7" y="598.5" width="1.7" height="6" fill="#9c9c9a"/>
 <rect x="920.1" y="598.5" width="1.7" height="6" fill="#9c9c9a"/>
 <rect x="923.5" y="598.5" width="1.7" height="6" fill="#d8d0ce"/>
 <rect x="926.9" y="598.5" width="1.7" height="6" fill="#9c9c9a"/>
 <rect x="930.3" y="598.5" width="1.7" height="6" fill="#767876"/>
 <rect x="933.7" y="598.5" width="1.7" height="6" fill="#767876"/>
 <rect x="937.1" y="598.5" width="1.7" height="6" fill="#8a8c8a"/>
 <rect x="940.5" y="598.5" width="1.7" height="6" fill="#9c9c9a"/>
 <rect x="943.9" y="598.5" width="1.7" height="6" fill="#8a8c8a"/>
 <rect x="947.3" y="598.5" width="1.7" height="6" fill="#9c9c9a"/>
 <rect x="950.7" y="598.5" width="1.7" height="6" fill="#767876"/>
 <rect x="954.1" y="598.5" width="1.7" height="6" fill="#767876"/>
 <rect x="957.5" y="598.5" width="1.7" height="6" fill="#8a8c8a"/>
 <rect x="960.9" y="598.5" width="1.7" height="6" fill="#cfc8c6"/>
 <rect x="964.3" y="598.5" width="1.7" height="6" fill="#f0ebe8"/>
 <rect x="967.7" y="598.5" width="1.7" height="6" fill="#cfc8c6"/>
 <rect x="971.1" y="598.5" width="1.7" height="6" fill="#9c9c9a"/>
 <rect x="974.5" y="598.5" width="1.7" height="6" fill="#f0ebe8"/>
 <rect x="977.9" y="598.5" width="1.7" height="6" fill="#f0ebe8"/>
 <rect x="981.3" y="598.5" width="1.7" height="6" fill="#9c9c9a"/>
 <rect x="984.7" y="598.5" width="1.7" height="6" fill="#8a8c8a"/>
 <rect x="988.1" y="598.5" width="1.7" height="6" fill="#767876"/>
 <rect x="991.5" y="598.5" width="1.7" height="6" fill="#9c9c9a"/>
 <rect x="845" y="606.5" width="150" height="9.5" fill="#5a5a58"/>
 <rect x="845" y="615.0" width="150" height="1" fill="#9a9a98"/>
 <rect x="855.5" y="608.0" width="1.7" height="6" fill="#f0ebe8"/>
 <rect x="858.9" y="608.0" width="1.7" height="6" fill="#cfc8c6"/>
 <rect x="862.3" y="608.0" width="1.7" height="6" fill="#cfc8c6"/>
 <rect x="865.7" y="608.0" width="1.7" height="6" fill="#767876"/>
 <rect x="869.1" y="608.0" width="1.7" height="6" fill="#cfc8c6"/>
 <rect x="872.5" y="608.0" width="1.7" height="6" fill="#e6dedb"/>
 <rect x="875.9" y="608.0" width="1.7" height="6" fill="#d8d0ce"/>
 <rect x="879.3" y="608.0" width="1.7" height="6" fill="#d8d0ce"/>
 <rect x="882.7" y="608.0" width="1.7" height="6" fill="#cfc8c6"/>
 <rect x="886.1" y="608.0" width="1.7" height="6" fill="#cfc8c6"/>
 <rect x="889.5" y="608.0" width="1.7" height="6" fill="#cfc8c6"/>
 <rect x="892.9" y="608.0" width="1.7" height="6" fill="#f0ebe8"/>
 <rect x="896.3" y="608.0" width="1.7" height="6" fill="#767876"/>
 <rect x="899.7" y="608.0" width="1.7" height="6" fill="#767876"/>
 <rect x="903.1" y="608.0" width="1.7" height="6" fill="#f0ebe8"/>
 <rect x="906.5" y="608.0" width="1.7" height="6" fill="#cfc8c6"/>
 <rect x="909.9" y="608.0" width="1.7" height="6" fill="#8a8c8a"/>
 <rect x="913.3" y="608.0" width="1.7" height="6" fill="#d8d0ce"/>
 <rect x="916.7" y="608.0" width="1.7" height="6" fill="#d8d0ce"/>
 <rect x="920.1" y="608.0" width="1.7" height="6" fill="#d8d0ce"/>
 <rect x="923.5" y="608.0" width="1.7" height="6" fill="#e6dedb"/>
 <rect x="926.9" y="608.0" width="1.7" height="6" fill="#f0ebe8"/>
 <rect x="930.3" y="608.0" width="1.7" height="6" fill="#f0ebe8"/>
 <rect x="933.7" y="608.0" width="1.7" height="6" fill="#9c9c9a"/>
 <rect x="937.1" y="608.0" width="1.7" height="6" fill="#9c9c9a"/>
 <rect x="940.5" y="608.0" width="1.7" height="6" fill="#e6dedb"/>
 <rect x="943.9" y="608.0" width="1.7" height="6" fill="#cfc8c6"/>
 <rect x="947.3" y="608.0" width="1.7" height="6" fill="#cfc8c6"/>
 <rect x="950.7" y="608.0" width="1.7" height="6" fill="#cfc8c6"/>
 <rect x="954.1" y="608.0" width="1.7" height="6" fill="#e6dedb"/>
 <rect x="957.5" y="608.0" width="1.7" height="6" fill="#767876"/>
 <rect x="960.9" y="608.0" width="1.7" height="6" fill="#f0ebe8"/>
 <rect x="964.3" y="608.0" width="1.7" height="6" fill="#e6dedb"/>
 <rect x="967.7" y="608.0" width="1.7" height="6" fill="#d8d0ce"/>
 <rect x="971.1" y="608.0" width="1.7" height="6" fill="#f0ebe8"/>
 <rect x="974.5" y="608.0" width="1.7" height="6" fill="#e6dedb"/>
 <rect x="977.9" y="608.0" width="1.7" height="6" fill="#9c9c9a"/>
 <rect x="981.3" y="608.0" width="1.7" height="6" fill="#f0ebe8"/>
 <rect x="984.7" y="608.0" width="1.7" height="6" fill="#9c9c9a"/>
 <rect x="988.1" y="608.0" width="1.7" height="6" fill="#e6dedb"/>
 <rect x="991.5" y="608.0" width="1.7" height="6" fill="#cfc8c6"/>
 <rect x="845" y="616" width="150" height="9.5" fill="#3e403e"/>
 <rect x="845" y="624.5" width="150" height="1" fill="#9a9a98"/>
 <rect x="855.5" y="617.5" width="1.7" height="6" fill="#767876"/>
 <rect x="858.9" y="617.5" width="1.7" height="6" fill="#767876"/>
 <rect x="862.3" y="617.5" width="1.7" height="6" fill="#e6dedb"/>
 <rect x="865.7" y="617.5" width="1.7" height="6" fill="#9c9c9a"/>
 <rect x="869.1" y="617.5" width="1.7" height="6" fill="#d8d0ce"/>
 <rect x="872.5" y="617.5" width="1.7" height="6" fill="#8a8c8a"/>
 <rect x="875.9" y="617.5" width="1.7" height="6" fill="#9c9c9a"/>
 <rect x="879.3" y="617.5" width="1.7" height="6" fill="#9c9c9a"/>
 <rect x="882.7" y="617.5" width="1.7" height="6" fill="#8a8c8a"/>
 <rect x="886.1" y="617.5" width="1.7" height="6" fill="#767876"/>
 <rect x="889.5" y="617.5" width="1.7" height="6" fill="#8a8c8a"/>
 <rect x="892.9" y="617.5" width="1.7" height="6" fill="#767876"/>
 <rect x="896.3" y="617.5" width="1.7" height="6" fill="#8a8c8a"/>
 <rect x="899.7" y="617.5" width="1.7" height="6" fill="#8a8c8a"/>
 <rect x="903.1" y="617.5" width="1.7" height="6" fill="#9c9c9a"/>
 <rect x="906.5" y="617.5" width="1.7" height="6" fill="#8a8c8a"/>
 <rect x="909.9" y="617.5" width="1.7" height="6" fill="#8a8c8a"/>
 <rect x="913.3" y="617.5" width="1.7" height="6" fill="#767876"/>
 <rect x="916.7" y="617.5" width="1.7" height="6" fill="#8a8c8a"/>
 <rect x="920.1" y="617.5" width="1.7" height="6" fill="#cfc8c6"/>
 <rect x="923.5" y="617.5" width="1.7" height="6" fill="#8a8c8a"/>
 <rect x="926.9" y="617.5" width="1.7" height="6" fill="#767876"/>
 <rect x="930.3" y="617.5" width="1.7" height="6" fill="#8a8c8a"/>
 <rect x="933.7" y="617.5" width="1.7" height="6" fill="#767876"/>
 <rect x="937.1" y="617.5" width="1.7" height="6" fill="#9c9c9a"/>
 <rect x="940.5" y="617.5" width="1.7" height="6" fill="#767876"/>
 <rect x="943.9" y="617.5" width="1.7" height="6" fill="#e6dedb"/>
 <rect x="947.3" y="617.5" width="1.7" height="6" fill="#d8d0ce"/>
 <rect x="950.7" y="617.5" width="1.7" height="6" fill="#767876"/>
 <rect x="954.1" y="617.5" width="1.7" height="6" fill="#9c9c9a"/>
 <rect x="957.5" y="617.5" width="1.7" height="6" fill="#767876"/>
 <rect x="960.9" y="617.5" width="1.7" height="6" fill="#767876"/>
 <rect x="964.3" y="617.5" width="1.7" height="6" fill="#8a8c8a"/>
 <rect x="967.7" y="617.5" width="1.7" height="6" fill="#8a8c8a"/>
 <rect x="971.1" y="617.5" width="1.7" height="6" fill="#9c9c9a"/>
 <rect x="974.5" y="617.5" width="1.7" height="6" fill="#767876"/>
 <rect x="977.9" y="617.5" width="1.7" height="6" fill="#767876"/>
 <rect x="981.3" y="617.5" width="1.7" height="6" fill="#767876"/>
 <rect x="984.7" y="617.5" width="1.7" height="6" fill="#cfc8c6"/>
 <rect x="988.1" y="617.5" width="1.7" height="6" fill="#9c9c9a"/>
 <rect x="991.5" y="617.5" width="1.7" height="6" fill="#9c9c9a"/>
 <rect x="845" y="626" width="150" height="9.5" fill="#4e504e"/>
 <rect x="845" y="634.5" width="150" height="1" fill="#9a9a98"/>
 <rect x="855.5" y="627.5" width="1.7" height="6" fill="#d8d0ce"/>
 <rect x="858.9" y="627.5" width="1.7" height="6" fill="#cfc8c6"/>
 <rect x="862.3" y="627.5" width="1.7" height="6" fill="#8a8c8a"/>
 <rect x="865.7" y="627.5" width="1.7" height="6" fill="#9c9c9a"/>
 <rect x="869.1" y="627.5" width="1.7" height="6" fill="#9c9c9a"/>
 <rect x="872.5" y="627.5" width="1.7" height="6" fill="#8a8c8a"/>
 <rect x="875.9" y="627.5" width="1.7" height="6" fill="#d8d0ce"/>
 <rect x="879.3" y="627.5" width="1.7" height="6" fill="#e6dedb"/>
 <rect x="882.7" y="627.5" width="1.7" height="6" fill="#d8d0ce"/>
 <rect x="886.1" y="627.5" width="1.7" height="6" fill="#d8d0ce"/>
 <rect x="889.5" y="627.5" width="1.7" height="6" fill="#8a8c8a"/>
 <rect x="892.9" y="627.5" width="1.7" height="6" fill="#d8d0ce"/>
 <rect x="896.3" y="627.5" width="1.7" height="6" fill="#d8d0ce"/>
 <rect x="899.7" y="627.5" width="1.7" height="6" fill="#767876"/>
 <rect x="903.1" y="627.5" width="1.7" height="6" fill="#cfc8c6"/>
 <rect x="906.5" y="627.5" width="1.7" height="6" fill="#8a8c8a"/>
 <rect x="909.9" y="627.5" width="1.7" height="6" fill="#767876"/>
 <rect x="913.3" y="627.5" width="1.7" height="6" fill="#9c9c9a"/>
 <rect x="916.7" y="627.5" width="1.7" height="6" fill="#9c9c9a"/>
 <rect x="920.1" y="627.5" width="1.7" height="6" fill="#d8d0ce"/>
 <rect x="923.5" y="627.5" width="1.7" height="6" fill="#e6dedb"/>
 <rect x="926.9" y="627.5" width="1.7" height="6" fill="#8a8c8a"/>
 <rect x="930.3" y="627.5" width="1.7" height="6" fill="#8a8c8a"/>
 <rect x="933.7" y="627.5" width="1.7" height="6" fill="#cfc8c6"/>
 <rect x="937.1" y="627.5" width="1.7" height="6" fill="#8a8c8a"/>
 <rect x="940.5" y="627.5" width="1.7" height="6" fill="#767876"/>
 <rect x="943.9" y="627.5" width="1.7" height="6" fill="#9c9c9a"/>
 <rect x="947.3" y="627.5" width="1.7" height="6" fill="#8a8c8a"/>
 <rect x="950.7" y="627.5" width="1.7" height="6" fill="#8a8c8a"/>
 <rect x="954.1" y="627.5" width="1.7" height="6" fill="#f0ebe8"/>
 <rect x="957.5" y="627.5" width="1.7" height="6" fill="#e6dedb"/>
 <rect x="960.9" y="627.5" width="1.7" height="6" fill="#e6dedb"/>
 <rect x="964.3" y="627.5" width="1.7" height="6" fill="#8a8c8a"/>
 <rect x="967.7" y="627.5" width="1.7" height="6" fill="#d8d0ce"/>
 <rect x="971.1" y="627.5" width="1.7" height="6" fill="#767876"/>
 <rect x="974.5" y="627.5" width="1.7" height="6" fill="#cfc8c6"/>
 <rect x="977.9" y="627.5" width="1.7" height="6" fill="#d8d0ce"/>
 <rect x="981.3" y="627.5" width="1.7" height="6" fill="#767876"/>
 <rect x="984.7" y="627.5" width="1.7" height="6" fill="#8a8c8a"/>
 <rect x="988.1" y="627.5" width="1.7" height="6" fill="#8a8c8a"/>
 <rect x="991.5" y="627.5" width="1.7" height="6" fill="#cfc8c6"/>
 <rect x="845" y="636.5" width="150" height="9.5" fill="#5c5a58"/>
 <rect x="845" y="645.0" width="150" height="1" fill="#9a9a98"/>
 <rect x="855.5" y="638.0" width="1.7" height="6" fill="#e6dedb"/>
 <rect x="858.9" y="638.0" width="1.7" height="6" fill="#cfc8c6"/>
 <rect x="862.3" y="638.0" width="1.7" height="6" fill="#f0ebe8"/>
 <rect x="865.7" y="638.0" width="1.7" height="6" fill="#d8d0ce"/>
 <rect x="869.1" y="638.0" width="1.7" height="6" fill="#9c9c9a"/>
 <rect x="872.5" y="638.0" width="1.7" height="6" fill="#d8d0ce"/>
 <rect x="875.9" y="638.0" width="1.7" height="6" fill="#d8d0ce"/>
 <rect x="879.3" y="638.0" width="1.7" height="6" fill="#8a8c8a"/>
 <rect x="882.7" y="638.0" width="1.7" height="6" fill="#e6dedb"/>
 <rect x="886.1" y="638.0" width="1.7" height="6" fill="#cfc8c6"/>
 <rect x="889.5" y="638.0" width="1.7" height="6" fill="#d8d0ce"/>
 <rect x="892.9" y="638.0" width="1.7" height="6" fill="#cfc8c6"/>
 <rect x="896.3" y="638.0" width="1.7" height="6" fill="#767876"/>
 <rect x="899.7" y="638.0" width="1.7" height="6" fill="#d8d0ce"/>
 <rect x="903.1" y="638.0" width="1.7" height="6" fill="#e6dedb"/>
 <rect x="906.5" y="638.0" width="1.7" height="6" fill="#e6dedb"/>
 <rect x="909.9" y="638.0" width="1.7" height="6" fill="#cfc8c6"/>
 <rect x="913.3" y="638.0" width="1.7" height="6" fill="#e6dedb"/>
 <rect x="916.7" y="638.0" width="1.7" height="6" fill="#f0ebe8"/>
 <rect x="920.1" y="638.0" width="1.7" height="6" fill="#e6dedb"/>
 <rect x="923.5" y="638.0" width="1.7" height="6" fill="#d8d0ce"/>
 <rect x="926.9" y="638.0" width="1.7" height="6" fill="#8a8c8a"/>
 <rect x="930.3" y="638.0" width="1.7" height="6" fill="#f0ebe8"/>
 <rect x="933.7" y="638.0" width="1.7" height="6" fill="#d8d0ce"/>
 <rect x="937.1" y="638.0" width="1.7" height="6" fill="#d8d0ce"/>
 <rect x="940.5" y="638.0" width="1.7" height="6" fill="#f0ebe8"/>
 <rect x="943.9" y="638.0" width="1.7" height="6" fill="#cfc8c6"/>
 <rect x="947.3" y="638.0" width="1.7" height="6" fill="#e6dedb"/>
 <rect x="950.7" y="638.0" width="1.7" height="6" fill="#d8d0ce"/>
 <rect x="954.1" y="638.0" width="1.7" height="6" fill="#e6dedb"/>
 <rect x="957.5" y="638.0" width="1.7" height="6" fill="#e6dedb"/>
 <rect x="960.9" y="638.0" width="1.7" height="6" fill="#f0ebe8"/>
 <rect x="964.3" y="638.0" width="1.7" height="6" fill="#d8d0ce"/>
 <rect x="967.7" y="638.0" width="1.7" height="6" fill="#e6dedb"/>
 <rect x="971.1" y="638.0" width="1.7" height="6" fill="#f0ebe8"/>
 <rect x="974.5" y="638.0" width="1.7" height="6" fill="#767876"/>
 <rect x="977.9" y="638.0" width="1.7" height="6" fill="#767876"/>
 <rect x="981.3" y="638.0" width="1.7" height="6" fill="#e6dedb"/>
 <rect x="984.7" y="638.0" width="1.7" height="6" fill="#d8d0ce"/>
 <rect x="988.1" y="638.0" width="1.7" height="6" fill="#8a8c8a"/>
 <rect x="991.5" y="638.0" width="1.7" height="6" fill="#d8d0ce"/>
 <rect x="845" y="646" width="150" height="9.5" fill="#5e5a58"/>
 <rect x="845" y="654.5" width="150" height="1" fill="#9a9a98"/>
 <rect x="855.5" y="647.5" width="1.7" height="6" fill="#f0ebe8"/>
 <rect x="858.9" y="647.5" width="1.7" height="6" fill="#d8d0ce"/>
 <rect x="862.3" y="647.5" width="1.7" height="6" fill="#d8d0ce"/>
 <rect x="865.7" y="647.5" width="1.7" height="6" fill="#e6dedb"/>
 <rect x="869.1" y="647.5" width="1.7" height="6" fill="#8a8c8a"/>
 <rect x="872.5" y="647.5" width="1.7" height="6" fill="#d8d0ce"/>
 <rect x="875.9" y="647.5" width="1.7" height="6" fill="#d8d0ce"/>
 <rect x="879.3" y="647.5" width="1.7" height="6" fill="#8a8c8a"/>
 <rect x="882.7" y="647.5" width="1.7" height="6" fill="#cfc8c6"/>
 <rect x="886.1" y="647.5" width="1.7" height="6" fill="#cfc8c6"/>
 <rect x="889.5" y="647.5" width="1.7" height="6" fill="#767876"/>
 <rect x="892.9" y="647.5" width="1.7" height="6" fill="#d8d0ce"/>
 <rect x="896.3" y="647.5" width="1.7" height="6" fill="#d8d0ce"/>
 <rect x="899.7" y="647.5" width="1.7" height="6" fill="#f0ebe8"/>
 <rect x="903.1" y="647.5" width="1.7" height="6" fill="#8a8c8a"/>
 <rect x="906.5" y="647.5" width="1.7" height="6" fill="#f0ebe8"/>
 <rect x="909.9" y="647.5" width="1.7" height="6" fill="#e6dedb"/>
 <rect x="913.3" y="647.5" width="1.7" height="6" fill="#cfc8c6"/>
 <rect x="916.7" y="647.5" width="1.7" height="6" fill="#9c9c9a"/>
 <rect x="920.1" y="647.5" width="1.7" height="6" fill="#9c9c9a"/>
 <rect x="923.5" y="647.5" width="1.7" height="6" fill="#f0ebe8"/>
 <rect x="926.9" y="647.5" width="1.7" height="6" fill="#d8d0ce"/>
 <rect x="930.3" y="647.5" width="1.7" height="6" fill="#cfc8c6"/>
 <rect x="933.7" y="647.5" width="1.7" height="6" fill="#f0ebe8"/>
 <rect x="937.1" y="647.5" width="1.7" height="6" fill="#9c9c9a"/>
 <rect x="940.5" y="647.5" width="1.7" height="6" fill="#e6dedb"/>
 <rect x="943.9" y="647.5" width="1.7" height="6" fill="#767876"/>
 <rect x="947.3" y="647.5" width="1.7" height="6" fill="#d8d0ce"/>
 <rect x="950.7" y="647.5" width="1.7" height="6" fill="#cfc8c6"/>
 <rect x="954.1" y="647.5" width="1.7" height="6" fill="#f0ebe8"/>
 <rect x="957.5" y="647.5" width="1.7" height="6" fill="#d8d0ce"/>
 <rect x="960.9" y="647.5" width="1.7" height="6" fill="#e6dedb"/>
 <rect x="964.3" y="647.5" width="1.7" height="6" fill="#e6dedb"/>
 <rect x="967.7" y="647.5" width="1.7" height="6" fill="#e6dedb"/>
 <rect x="971.1" y="647.5" width="1.7" height="6" fill="#f0ebe8"/>
 <rect x="974.5" y="647.5" width="1.7" height="6" fill="#d8d0ce"/>
 <rect x="977.9" y="647.5" width="1.7" height="6" fill="#d8d0ce"/>
 <rect x="981.3" y="647.5" width="1.7" height="6" fill="#cfc8c6"/>
 <rect x="984.7" y="647.5" width="1.7" height="6" fill="#cfc8c6"/>
 <rect x="988.1" y="647.5" width="1.7" height="6" fill="#d8d0ce"/>
 <rect x="991.5" y="647.5" width="1.7" height="6" fill="#cfc8c6"/>
 <rect x="845" y="655" width="150" height="9.5" fill="#3e403e"/>
 <rect x="845" y="663.5" width="150" height="1" fill="#9a9a98"/>
 <rect x="855.5" y="656.5" width="1.7" height="6" fill="#9c9c9a"/>
 <rect x="858.9" y="656.5" width="1.7" height="6" fill="#e6dedb"/>
 <rect x="862.3" y="656.5" width="1.7" height="6" fill="#9c9c9a"/>
 <rect x="865.7" y="656.5" width="1.7" height="6" fill="#9c9c9a"/>
 <rect x="869.1" y="656.5" width="1.7" height="6" fill="#9c9c9a"/>
 <rect x="872.5" y="656.5" width="1.7" height="6" fill="#8a8c8a"/>
 <rect x="875.9" y="656.5" width="1.7" height="6" fill="#d8d0ce"/>
 <rect x="879.3" y="656.5" width="1.7" height="6" fill="#8a8c8a"/>
 <rect x="882.7" y="656.5" width="1.7" height="6" fill="#767876"/>
 <rect x="886.1" y="656.5" width="1.7" height="6" fill="#9c9c9a"/>
 <rect x="889.5" y="656.5" width="1.7" height="6" fill="#d8d0ce"/>
 <rect x="892.9" y="656.5" width="1.7" height="6" fill="#8a8c8a"/>
 <rect x="896.3" y="656.5" width="1.7" height="6" fill="#8a8c8a"/>
 <rect x="899.7" y="656.5" width="1.7" height="6" fill="#9c9c9a"/>
 <rect x="903.1" y="656.5" width="1.7" height="6" fill="#8a8c8a"/>
 <rect x="906.5" y="656.5" width="1.7" height="6" fill="#8a8c8a"/>
 <rect x="909.9" y="656.5" width="1.7" height="6" fill="#767876"/>
 <rect x="913.3" y="656.5" width="1.7" height="6" fill="#e6dedb"/>
 <rect x="916.7" y="656.5" width="1.7" height="6" fill="#8a8c8a"/>
 <rect x="920.1" y="656.5" width="1.7" height="6" fill="#8a8c8a"/>
 <rect x="923.5" y="656.5" width="1.7" height="6" fill="#cfc8c6"/>
 <rect x="926.9" y="656.5" width="1.7" height="6" fill="#767876"/>
 <rect x="930.3" y="656.5" width="1.7" height="6" fill="#f0ebe8"/>
 <rect x="933.7" y="656.5" width="1.7" height="6" fill="#9c9c9a"/>
 <rect x="937.1" y="656.5" width="1.7" height="6" fill="#8a8c8a"/>
 <rect x="940.5" y="656.5" width="1.7" height="6" fill="#d8d0ce"/>
 <rect x="943.9" y="656.5" width="1.7" height="6" fill="#f0ebe8"/>
 <rect x="947.3" y="656.5" width="1.7" height="6" fill="#8a8c8a"/>
 <rect x="950.7" y="656.5" width="1.7" height="6" fill="#e6dedb"/>
 <rect x="954.1" y="656.5" width="1.7" height="6" fill="#9c9c9a"/>
 <rect x="957.5" y="656.5" width="1.7" height="6" fill="#d8d0ce"/>
 <rect x="960.9" y="656.5" width="1.7" height="6" fill="#767876"/>
 <rect x="964.3" y="656.5" width="1.7" height="6" fill="#767876"/>
 <rect x="967.7" y="656.5" width="1.7" height="6" fill="#767876"/>
 <rect x="971.1" y="656.5" width="1.7" height="6" fill="#9c9c9a"/>
 <rect x="974.5" y="656.5" width="1.7" height="6" fill="#e6dedb"/>
 <rect x="977.9" y="656.5" width="1.7" height="6" fill="#8a8c8a"/>
 <rect x="981.3" y="656.5" width="1.7" height="6" fill="#e6dedb"/>
 <rect x="984.7" y="656.5" width="1.7" height="6" fill="#767876"/>
 <rect x="988.1" y="656.5" width="1.7" height="6" fill="#767876"/>
 <rect x="991.5" y="656.5" width="1.7" height="6" fill="#d8d0ce"/>
 <rect x="845" y="664.5" width="150" height="9.5" fill="#525452"/>
 <rect x="845" y="673.0" width="150" height="1" fill="#9a9a98"/>
 <rect x="855.5" y="666.0" width="1.7" height="6" fill="#e6dedb"/>
 <rect x="858.9" y="666.0" width="1.7" height="6" fill="#f0ebe8"/>
 <rect x="862.3" y="666.0" width="1.7" height="6" fill="#8a8c8a"/>
 <rect x="865.7" y="666.0" width="1.7" height="6" fill="#9c9c9a"/>
 <rect x="869.1" y="666.0" width="1.7" height="6" fill="#e6dedb"/>
 <rect x="872.5" y="666.0" width="1.7" height="6" fill="#8a8c8a"/>
 <rect x="875.9" y="666.0" width="1.7" height="6" fill="#cfc8c6"/>
 <rect x="879.3" y="666.0" width="1.7" height="6" fill="#d8d0ce"/>
 <rect x="882.7" y="666.0" width="1.7" height="6" fill="#cfc8c6"/>
 <rect x="886.1" y="666.0" width="1.7" height="6" fill="#767876"/>
 <rect x="889.5" y="666.0" width="1.7" height="6" fill="#d8d0ce"/>
 <rect x="892.9" y="666.0" width="1.7" height="6" fill="#cfc8c6"/>
 <rect x="896.3" y="666.0" width="1.7" height="6" fill="#f0ebe8"/>
 <rect x="899.7" y="666.0" width="1.7" height="6" fill="#f0ebe8"/>
 <rect x="903.1" y="666.0" width="1.7" height="6" fill="#8a8c8a"/>
 <rect x="906.5" y="666.0" width="1.7" height="6" fill="#8a8c8a"/>
 <rect x="909.9" y="666.0" width="1.7" height="6" fill="#9c9c9a"/>
 <rect x="913.3" y="666.0" width="1.7" height="6" fill="#f0ebe8"/>
 <rect x="916.7" y="666.0" width="1.7" height="6" fill="#cfc8c6"/>
 <rect x="920.1" y="666.0" width="1.7" height="6" fill="#9c9c9a"/>
 <rect x="923.5" y="666.0" width="1.7" height="6" fill="#cfc8c6"/>
 <rect x="926.9" y="666.0" width="1.7" height="6" fill="#8a8c8a"/>
 <rect x="930.3" y="666.0" width="1.7" height="6" fill="#e6dedb"/>
 <rect x="933.7" y="666.0" width="1.7" height="6" fill="#767876"/>
 <rect x="937.1" y="666.0" width="1.7" height="6" fill="#8a8c8a"/>
 <rect x="940.5" y="666.0" width="1.7" height="6" fill="#f0ebe8"/>
 <rect x="943.9" y="666.0" width="1.7" height="6" fill="#f0ebe8"/>
 <rect x="947.3" y="666.0" width="1.7" height="6" fill="#f0ebe8"/>
 <rect x="950.7" y="666.0" width="1.7" height="6" fill="#767876"/>
 <rect x="954.1" y="666.0" width="1.7" height="6" fill="#9c9c9a"/>
 <rect x="957.5" y="666.0" width="1.7" height="6" fill="#d8d0ce"/>
 <rect x="960.9" y="666.0" width="1.7" height="6" fill="#8a8c8a"/>
 <rect x="964.3" y="666.0" width="1.7" height="6" fill="#767876"/>
 <rect x="967.7" y="666.0" width="1.7" height="6" fill="#d8d0ce"/>
 <rect x="971.1" y="666.0" width="1.7" height="6" fill="#767876"/>
 <rect x="974.5" y="666.0" width="1.7" height="6" fill="#d8d0ce"/>
 <rect x="977.9" y="666.0" width="1.7" height="6" fill="#cfc8c6"/>
 <rect x="981.3" y="666.0" width="1.7" height="6" fill="#f0ebe8"/>
 <rect x="984.7" y="666.0" width="1.7" height="6" fill="#f0ebe8"/>
 <rect x="988.1" y="666.0" width="1.7" height="6" fill="#d8d0ce"/>
 <rect x="991.5" y="666.0" width="1.7" height="6" fill="#cfc8c6"/>
 <rect x="845" y="674" width="150" height="9.5" fill="#3a3c3a"/>
 <rect x="845" y="682.5" width="150" height="1" fill="#9a9a98"/>
 <rect x="855.5" y="675.5" width="1.7" height="6" fill="#d8d0ce"/>
 <rect x="858.9" y="675.5" width="1.7" height="6" fill="#cfc8c6"/>
 <rect x="862.3" y="675.5" width="1.7" height="6" fill="#767876"/>
 <rect x="865.7" y="675.5" width="1.7" height="6" fill="#767876"/>
 <rect x="869.1" y="675.5" width="1.7" height="6" fill="#9c9c9a"/>
 <rect x="872.5" y="675.5" width="1.7" height="6" fill="#e6dedb"/>
 <rect x="875.9" y="675.5" width="1.7" height="6" fill="#e6dedb"/>
 <rect x="879.3" y="675.5" width="1.7" height="6" fill="#767876"/>
 <rect x="882.7" y="675.5" width="1.7" height="6" fill="#d8d0ce"/>
 <rect x="886.1" y="675.5" width="1.7" height="6" fill="#9c9c9a"/>
 <rect x="889.5" y="675.5" width="1.7" height="6" fill="#767876"/>
 <rect x="892.9" y="675.5" width="1.7" height="6" fill="#9c9c9a"/>
 <rect x="896.3" y="675.5" width="1.7" height="6" fill="#f0ebe8"/>
 <rect x="899.7" y="675.5" width="1.7" height="6" fill="#8a8c8a"/>
 <rect x="903.1" y="675.5" width="1.7" height="6" fill="#9c9c9a"/>
 <rect x="906.5" y="675.5" width="1.7" height="6" fill="#8a8c8a"/>
 <rect x="909.9" y="675.5" width="1.7" height="6" fill="#9c9c9a"/>
 <rect x="913.3" y="675.5" width="1.7" height="6" fill="#8a8c8a"/>
 <rect x="916.7" y="675.5" width="1.7" height="6" fill="#d8d0ce"/>
 <rect x="920.1" y="675.5" width="1.7" height="6" fill="#9c9c9a"/>
 <rect x="923.5" y="675.5" width="1.7" height="6" fill="#767876"/>
 <rect x="926.9" y="675.5" width="1.7" height="6" fill="#8a8c8a"/>
 <rect x="930.3" y="675.5" width="1.7" height="6" fill="#cfc8c6"/>
 <rect x="933.7" y="675.5" width="1.7" height="6" fill="#767876"/>
 <rect x="937.1" y="675.5" width="1.7" height="6" fill="#767876"/>
 <rect x="940.5" y="675.5" width="1.7" height="6" fill="#cfc8c6"/>
 <rect x="943.9" y="675.5" width="1.7" height="6" fill="#9c9c9a"/>
 <rect x="947.3" y="675.5" width="1.7" height="6" fill="#767876"/>
 <rect x="950.7" y="675.5" width="1.7" height="6" fill="#e6dedb"/>
 <rect x="954.1" y="675.5" width="1.7" height="6" fill="#d8d0ce"/>
 <rect x="957.5" y="675.5" width="1.7" height="6" fill="#9c9c9a"/>
 <rect x="960.9" y="675.5" width="1.7" height="6" fill="#cfc8c6"/>
 <rect x="964.3" y="675.5" width="1.7" height="6" fill="#e6dedb"/>
 <rect x="967.7" y="675.5" width="1.7" height="6" fill="#d8d0ce"/>
 <rect x="971.1" y="675.5" width="1.7" height="6" fill="#e6dedb"/>
 <rect x="974.5" y="675.5" width="1.7" height="6" fill="#767876"/>
 <rect x="977.9" y="675.5" width="1.7" height="6" fill="#9c9c9a"/>
 <rect x="981.3" y="675.5" width="1.7" height="6" fill="#cfc8c6"/>
 <rect x="984.7" y="675.5" width="1.7" height="6" fill="#8a8c8a"/>
 <rect x="988.1" y="675.5" width="1.7" height="6" fill="#f0ebe8"/>
 <rect x="991.5" y="675.5" width="1.7" height="6" fill="#9c9c9a"/>
 <rect x="858" y="610" width="4" height="10" fill="#2a8a5a"/>
 <rect x="845" y="683.5" width="150" height="25" fill="#a9aaa6"/>
 <rect x="910" y="684" width="36" height="8" fill="#cfc266"/>
 <rect x="845" y="697" width="150" height="10" fill="#2f7a6c"/>
</g></g>
<circle cx="923.3" cy="633.4" r="66" fill="none" stroke="#6a6a6a" stroke-width="1.4"/>

<!-- machine -->
<g id="machine" filter="url(#soft3)">
 <!-- top boxes -->
 <rect x="481" y="541.5" width="45" height="9" fill="#d6d6d6"/>
 <rect x="591" y="542" width="50" height="8" fill="#dcdcdc"/>
 <path d="M494,550 C496,544 501,540.5 506,540.8 C513,541.5 522,547.5 537,549 L537,550 Z" fill="#2e2e2e"/>
 <rect x="550" y="546.3" width="15" height="3.7" rx="1.8" fill="#222"/>
 <path d="M566,549.6 L591,548.8 C595,545 598,541.8 601,541.9 C604,542.3 606,545 608,549.6 Z" fill="#333"/>
 <rect x="657" y="527.8" width="6" height="10.5" rx="1" fill="#5ee07a"/>
 <rect x="658" y="538.3" width="4" height="5" fill="#cfcfcf"/>
 <rect x="659.6" y="543" width="1.8" height="7" fill="#777"/>
 <!-- body -->
 <defs>
  <linearGradient id="gl" x1="0" y1="0" x2="0" y2="1"><stop offset="0" stop-color="#dedede"/><stop offset="1" stop-color="#d6d6d6"/></linearGradient>
  <linearGradient id="gc" x1="0" y1="0" x2="0" y2="1"><stop offset="0" stop-color="#e6e6e6"/><stop offset="1" stop-color="#dfdfdf"/></linearGradient>
  <linearGradient id="gr" x1="0" y1="0" x2="1" y2="0"><stop offset="0" stop-color="#e9e9e9"/><stop offset="0.85" stop-color="#e7e7e7"/><stop offset="1" stop-color="#dcdcdc"/></linearGradient>
 </defs>
 <rect x="426" y="550" width="81.5" height="200" fill="url(#gl)"/>
 <rect x="507.5" y="550" width="82" height="200" fill="url(#gc)"/>
 <rect x="589.5" y="550" width="84.5" height="200" fill="url(#gr)"/>
 <rect x="507" y="550" width="1.2" height="200" fill="#6a6a6a"/>
 <rect x="589" y="550" width="1" height="200" fill="#9a9a9a"/>
 <rect x="426" y="749" width="248" height="1.6" fill="#a8a8a8"/>
 <g fill="#777"><rect x="506.3" y="558" width="2.2" height="8"/><rect x="506.3" y="621" width="2.2" height="9"/><rect x="506.3" y="674" width="2.2" height="9"/><rect x="506.3" y="733" width="2.2" height="10"/></g>
 <!-- handles -->
 <rect x="572.3" y="632.4" width="4.2" height="39.4" rx="2" fill="#f6f6f6" stroke="#9a9a9a" stroke-width="0.8"/>
 <rect x="601.6" y="632.4" width="4.6" height="39.4" rx="2" fill="#f6f6f6" stroke="#9a9a9a" stroke-width="0.8"/>
 <rect x="580" y="645" width="3.6" height="12" fill="#bdbdbd"/>
 <rect x="580.6" y="650" width="2.4" height="3" fill="#444"/>
 <!-- feet -->
 <g>
  <rect x="462.2" y="750.5" width="6.5" height="4" fill="#3a3a3a"/>
  <ellipse cx="465.8" cy="757.5" rx="8.2" ry="3.6" fill="#d37048"/>
  <ellipse cx="465.8" cy="756.3" rx="8.2" ry="2.6" fill="#2f3330"/>
  <rect x="626" y="750.5" width="6.5" height="4" fill="#3a3a3a"/>
  <ellipse cx="629.7" cy="757.5" rx="8.2" ry="3.6" fill="#d37048"/>
  <ellipse cx="629.7" cy="756.3" rx="8.2" ry="2.6" fill="#2f3330"/>
 </g>
 <!-- HFX logo -->
 <g fill="#111">
  <rect x="612.9" y="705.3" width="2" height="11.5"/><rect x="618" y="705.3" width="2" height="11.5"/><rect x="612.9" y="710.2" width="7" height="1.8"/>
  <rect x="628" y="705.3" width="2" height="11.5"/><rect x="628" y="705.3" width="6.6" height="1.8"/><rect x="628" y="710.3" width="5.6" height="1.8"/>
  <path d="M640.8,705.3 L643,705.3 L648.1,716.8 L645.9,716.8 Z"/><path d="M648.1,705.3 L645.9,705.3 L640.8,716.8 L643,716.8 Z"/>
 </g>
 <rect x="621.7" y="714.5" width="4.1" height="1.7" rx="0.8" fill="#d11"/>
 <rect x="635" y="715" width="3.8" height="1.7" rx="0.8" fill="#d11"/>
 <!-- monitor -->
 <rect x="685.3" y="597" width="55.8" height="33.5" fill="#2a2a2a"/>
 <rect x="686.5" y="598.2" width="53.4" height="31" fill="#252525"/>
 <rect x="696.5" y="631" width="24" height="13" fill="#ececec"/>
 <circle cx="702.9" cy="640.6" r="3.2" fill="#e8c84a"/>
 <circle cx="702.9" cy="640.6" r="2.3" fill="#e0303a"/>
 <rect x="714.6" y="635" width="3" height="5.5" fill="#333"/>
 <rect x="700" y="634.5" width="2.5" height="1.2" fill="#e8d040"/>
 <circle cx="706.8" cy="635.4" r="1" fill="#555"/>
 <rect x="684.4" y="645" width="63" height="8" fill="#f0f0f0"/>
 <path d="M686.7,645 L731,645 L732.5,650.3 L687.5,650.3 Z" fill="#1e1e1e"/>
 <ellipse cx="736.4" cy="648.2" rx="3" ry="1.9" fill="#2a2a2a"/>
 <rect x="678" y="648.5" width="10" height="4.5" fill="#b5b5b5"/>
 <rect x="674.5" y="656.6" width="9" height="5.4" fill="#bdbdbd"/>
 <rect x="680" y="652" width="3" height="6" fill="#c4c4c4"/>
</g>
<text x="439.4" y="589" font-family="Liberation Sans" font-weight="bold" font-size="12" fill="#1a1a1a" letter-spacing="-0.35">HFR-2000</text>
</svg>

<div class="t lb" style="left:368.5px;top:366.4px;letter-spacing:0.31px">Mobile phone</div>
<div class="t lb" style="left:647.8px;top:373.4px;letter-spacing:-0.54px">3C Electronics</div>
<div class="t lb" style="left:198.7px;top:504.9px;letter-spacing:-0.24px">Automotive sensors</div>
<div class="t lb" style="left:805.9px;top:509px;letter-spacing:-0.28px">Ic package</div>
<div class="t lb" style="left:206.2px;top:711.5px;letter-spacing:-0.8px;transform:scaleX(0.9);transform-origin:0 0">LED</div>
<div class="t lb" style="left:862.7px;top:710.3px;letter-spacing:-0.54px">FPC packaging</div>
</body></html>
